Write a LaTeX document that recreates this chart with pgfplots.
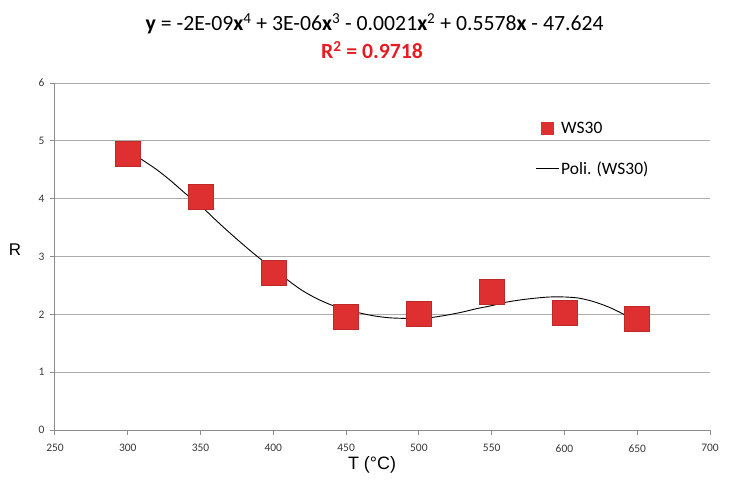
\documentclass[border=0pt]{standalone}
\usepackage{pgfplots}
\pgfplotsset{compat=1.18}
\usepackage{fontspec}
\setmainfont{Carlito}
\newfontfamily\arialf{Liberation Sans}
\definecolor{markred}{RGB}{222,48,48}
\definecolor{eqred}{RGB}{232,28,36}
\definecolor{gridgray}{RGB}{172,172,172}
\definecolor{axisgray}{RGB}{140,140,140}
\definecolor{ticktext}{RGB}{55,55,55}

\begin{document}
\begin{tikzpicture}
\useasboundingbox (-55bp,-63bp) rectangle (677bp,430bp);
\begin{axis}[
  at={(0,0)}, anchor=south west,
  scale only axis, width=655bp, height=347bp,
  xmin=250, xmax=700, ymin=0, ymax=6,
  xtick={250,300,...,700}, ytick={0,1,...,6},
  axis x line=bottom, axis y line=left,
  axis line style={axisgray, line width=1bp, -},
  tick align=outside, major tick length=5bp,
  tick style={axisgray, line width=1bp},
  ymajorgrids, grid style={gridgray, line width=1bp},
  /pgf/number format/assume math mode=true,
  ticklabel style={font=\fontsize{11.5}{13}\selectfont, text=ticktext},
  xticklabel style={yshift=-6bp},
  yticklabel style={xshift=-2bp},
  xlabel={T (°C)}, ylabel={R},
  xlabel style={font=\arialf\fontsize{18}{20}\selectfont, at={(axis description cs:0.484,-0.101)}, anchor=center},
  ylabel style={font=\arialf\fontsize{17}{20}\selectfont, rotate=-90, at={(axis description cs:-0.061,0.519)}, anchor=center},
  clip=false,
  legend style={draw=none, fill=none, at={(axis description cs:0.733,0.894)}, anchor=north west,
    font=\fontsize{17.5}{20}\selectfont, row sep=23bp, inner sep=0pt, nodes={inner sep=2bp}},
  legend cell align=left,
]
\addplot[only marks, mark=square*, mark size=12.5bp, mark options={fill=markred, draw=markred!85!black, line width=0.5bp},
  legend image code/.code={\fill[markred] (5bp,-6bp) rectangle (17bp,6bp);}]
  coordinates {(300,4.78) (350,4.03) (400,2.72) (450,1.96) (500,2.01) (550,2.39) (600,2.03) (650,1.93)};
\addlegendentry{WS30}
\addplot[black, line width=0.9bp, smooth, no marks,
  legend image code/.code={\draw[black, line width=0.9bp] (0bp,0bp) -- (23bp,0bp);}]
  coordinates {(300,4.83) (310,4.67) (320,4.50) (330,4.30) (340,4.08) (350,3.88) (360,3.64)
  (370,3.41) (380,3.19) (390,2.98) (400,2.79) (410,2.59) (420,2.41) (430,2.27) (440,2.16)
  (450,2.08) (460,2.02) (470,1.97) (480,1.94) (490,1.93) (500,1.93) (510,1.95) (520,1.99)
  (530,2.04) (540,2.10) (550,2.15) (560,2.21) (570,2.25) (580,2.28) (590,2.30) (600,2.30)
  (610,2.28) (620,2.22) (630,2.13) (640,2.01) (650,1.86)};
\addlegendentry{Poli. (WS30)}
\node[font=\fontsize{21.8}{24}\selectfont, anchor=center] at (axis description cs:0.488,1.170)
  {\textbf{y} = -2E-09\textbf{x}\textsuperscript{4} + 3E-06\textbf{x}\textsuperscript{3} - 0.0021\textbf{x}\textsuperscript{2} + 0.5578\textbf{x} - 47.624};
\node[font=\bfseries\fontsize{21.8}{24}\selectfont, text=eqred, anchor=center] at (axis description cs:0.484,1.095)
  {R\textsuperscript{2} = 0.9718};
\end{axis}
\end{tikzpicture}
\end{document}
